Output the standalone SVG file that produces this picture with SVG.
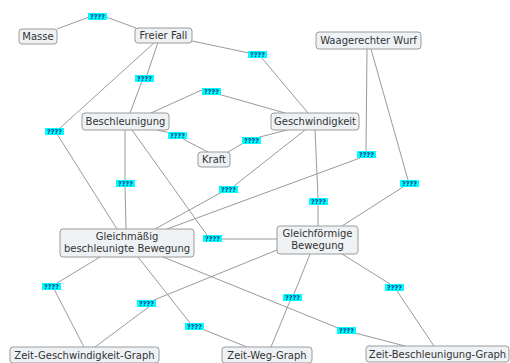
<svg xmlns="http://www.w3.org/2000/svg" width="510" height="363" viewBox="0 0 510 363">
<style>
.n rect{fill:#eef2f5;stroke:#9a9a9a;stroke-width:1}
.n text{font-family:"DejaVu Sans",Verdana,sans-serif;font-size:10px;fill:#333;text-anchor:middle}
.c line{stroke:#9a9a9a;stroke-width:1}
.l rect{fill:#00ffff}
.l text{font-family:"DejaVu Sans",Verdana,sans-serif;font-size:6.5px;font-weight:bold;fill:#1a3a8a;text-anchor:middle}
</style>
<rect width="510" height="363" fill="#fff"/>
<g id="connectors" class="c">
<line x1="57" y1="29" x2="89" y2="17"/><line x1="106" y1="17" x2="136" y2="28"/>
<line x1="192" y1="41" x2="249" y2="53"/><line x1="261" y1="57" x2="308" y2="113"/>
<line x1="158" y1="42" x2="147" y2="75"/><line x1="142" y1="81" x2="130" y2="113"/>
<line x1="155" y1="42" x2="60" y2="128"/><line x1="57" y1="134" x2="117" y2="229"/>
<line x1="151" y1="113" x2="204" y2="89"/><line x1="218" y1="94" x2="285" y2="113"/>
<line x1="157" y1="130" x2="171" y2="133"/><line x1="183" y1="139" x2="208" y2="152"/>
<line x1="228" y1="152" x2="245" y2="142"/><line x1="256" y1="138" x2="287" y2="130"/>
<line x1="125" y1="130" x2="125" y2="180"/><line x1="125" y1="187" x2="126" y2="229"/>
<line x1="305" y1="130" x2="234" y2="186"/><line x1="222" y1="192" x2="155" y2="229"/>
<line x1="132" y1="130" x2="207" y2="235"/><line x1="221" y1="239" x2="277" y2="239"/>
<line x1="315" y1="130" x2="318" y2="198"/><line x1="318" y1="204" x2="318" y2="226"/>
<line x1="367" y1="49" x2="366" y2="151"/><line x1="360" y1="158" x2="167" y2="229"/>
<line x1="371" y1="49" x2="408" y2="180"/><line x1="403" y1="187" x2="342" y2="226"/>
<line x1="100" y1="257" x2="57" y2="283"/><line x1="54" y1="289" x2="84" y2="347"/>
<line x1="277" y1="250" x2="154" y2="300"/><line x1="150" y1="306" x2="95" y2="347"/>
<line x1="138" y1="257" x2="190" y2="323"/><line x1="202" y1="329" x2="247" y2="347"/>
<line x1="310" y1="254" x2="294" y2="294"/><line x1="290" y1="301" x2="271" y2="347"/>
<line x1="163" y1="257" x2="338" y2="328"/><line x1="355" y1="333" x2="405" y2="346"/>
<line x1="342" y1="254" x2="390" y2="284"/><line x1="397" y1="291" x2="434" y2="346"/>
</g>
<g id="linklabels" class="l">
<g id="l1"><rect x="88" y="13" width="19" height="7"/><text x="97.5" y="19">????</text></g>
<g id="l2"><rect x="248" y="51" width="19" height="7"/><text x="257.5" y="57">????</text></g>
<g id="l3"><rect x="135" y="75" width="19" height="7"/><text x="144.5" y="81">????</text></g>
<g id="l4"><rect x="45" y="128" width="19" height="7"/><text x="54.5" y="134">????</text></g>
<g id="l5"><rect x="202" y="88" width="19" height="7"/><text x="211.5" y="94">????</text></g>
<g id="l6"><rect x="168" y="132" width="19" height="7"/><text x="177.5" y="138">????</text></g>
<g id="l7"><rect x="242" y="137" width="19" height="7"/><text x="251.5" y="143">????</text></g>
<g id="l8"><rect x="116" y="180" width="19" height="7"/><text x="125.5" y="186">????</text></g>
<g id="l9"><rect x="219" y="186" width="19" height="7"/><text x="228.5" y="192">????</text></g>
<g id="l10"><rect x="203" y="235" width="19" height="7"/><text x="212.5" y="241">????</text></g>
<g id="l11"><rect x="309" y="198" width="19" height="7"/><text x="318.5" y="204">????</text></g>
<g id="l12"><rect x="357" y="151" width="19" height="7"/><text x="366.5" y="157">????</text></g>
<g id="l13"><rect x="400" y="180" width="19" height="7"/><text x="409.5" y="186">????</text></g>
<g id="l14"><rect x="42" y="283" width="19" height="7"/><text x="51.5" y="289">????</text></g>
<g id="l15"><rect x="137" y="300" width="19" height="7"/><text x="146.5" y="306">????</text></g>
<g id="l16"><rect x="185" y="323" width="19" height="7"/><text x="194.5" y="329">????</text></g>
<g id="l17"><rect x="283" y="294" width="19" height="7"/><text x="292.5" y="300">????</text></g>
<g id="l18"><rect x="337" y="327" width="19" height="7"/><text x="346.5" y="333">????</text></g>
<g id="l19"><rect x="385" y="284" width="19" height="7"/><text x="394.5" y="290">????</text></g>
</g>
<g id="masse" class="n"><rect x="19" y="29" width="38" height="15" rx="3"/><text x="38" y="40">Masse</text></g>
<g id="freierfall" class="n"><rect x="135" y="28" width="57" height="15" rx="3"/><text x="163.5" y="39">Freier Fall</text></g>
<g id="waagerechterwurf" class="n"><rect x="316" y="32" width="105" height="17" rx="3"/><text x="368.5" y="44">Waagerechter Wurf</text></g>
<g id="beschleunigung" class="n"><rect x="82" y="113" width="87" height="17" rx="3"/><text x="125.5" y="125">Beschleunigung</text></g>
<g id="geschwindigkeit" class="n"><rect x="271" y="113" width="88" height="17" rx="3"/><text x="315" y="125">Geschwindigkeit</text></g>
<g id="kraft" class="n"><rect x="198" y="152" width="32" height="15" rx="3"/><text x="214" y="163">Kraft</text></g>
<g id="gleichmaessig" class="n"><rect x="60" y="229" width="134" height="28" rx="3"/><text x="127" y="240">Gleichmäßig</text><text x="127" y="252">beschleunigte Bewegung</text></g>
<g id="gleichfoermig" class="n"><rect x="277" y="226" width="81" height="28" rx="3"/><text x="317.5" y="237">Gleichförmige</text><text x="317.5" y="249">Bewegung</text></g>
<g id="zgg" class="n"><rect x="10" y="347" width="149" height="16" rx="3"/><text x="84.5" y="359">Zeit-Geschwindigkeit-Graph</text></g>
<g id="zwg" class="n"><rect x="222" y="347" width="90" height="16" rx="3"/><text x="267" y="359">Zeit-Weg-Graph</text></g>
<g id="zbg" class="n"><rect x="366" y="346" width="143" height="16" rx="3"/><text x="437.5" y="358">Zeit-Beschleunigung-Graph</text></g>
</svg>
